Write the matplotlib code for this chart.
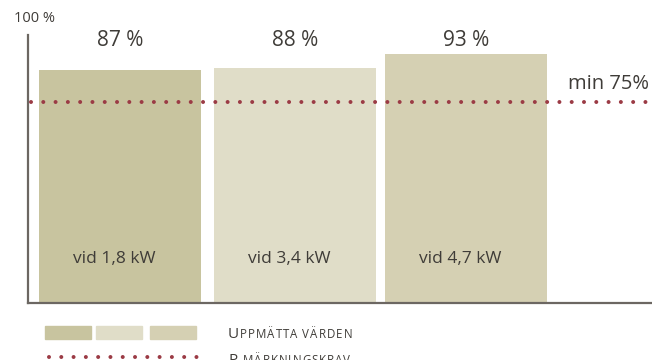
import matplotlib
matplotlib.use('Agg')
import matplotlib.pyplot as plt
from matplotlib.lines import Line2D
from matplotlib.patches import Rectangle

plt.rcParams['font.family'] = ['Open Sans', 'DejaVu Sans']

values = [87, 88, 93]
value_labels = ['87 %', '88 %', '93 %']
power_labels = ['vid 1,8 kW', 'vid 3,4 kW', 'vid 4,7 kW']
requirement = 75
requirement_label = 'min 75%'
axis_top_label = '100 %'
legend_measured = 'Uppmätta värden'
legend_requirement = 'P-märkningskrav'

bar_colors = ['#c8c49f', '#e0ddc8', '#d5d0b3']
dot_color = '#9b3b45'
text_color = '#3f3c38'
axis_color = '#6c6762'

fig = plt.figure(figsize=(6.52, 3.6), dpi=100)
ax = fig.add_axes([28 / 652, 57 / 360, 624 / 652, 268 / 360])

x = [0, 1.01, 1.995]
ax.bar(x, values, width=0.934, color=bar_colors, zorder=2)
ax.set_xlim(-0.53, 3.066)
ax.set_ylim(-0.4, 100.2)

# dotted requirement line, round dots spaced ~12 px
dots = dict(color=dot_color, lw=2.9, linestyle=(0, (0.001, 3.05)), dash_capstyle='round')
ax.plot([-0.51, 3.066], [requirement, requirement], zorder=3, **dots)

for s in ['top', 'right']:
    ax.spines[s].set_visible(False)
for s in ['left', 'bottom']:
    ax.spines[s].set_color(axis_color)
    ax.spines[s].set_linewidth(1.6)
ax.set_xticks([])
ax.set_yticks([])

for xi, lab in zip(x, value_labels):
    ax.text(xi, 0.98, lab, transform=ax.get_xaxis_transform(),
            ha='center', va='center', fontsize=15, color=text_color)

for xi, lab in zip(x, power_labels):
    ax.text(xi - 0.035, 0.165, lab, transform=ax.get_xaxis_transform(),
            ha='center', va='center', fontsize=12.5, color=text_color)

ax.text(0.995, requirement + 3.0, requirement_label, transform=ax.get_yaxis_transform(),
        ha='right', va='bottom', fontsize=14.5, color=text_color)

fig.text(35 / 652, 1 - 19 / 360, axis_top_label, ha='center', va='center',
         fontsize=10.5, color=text_color)

# legend: three swatches and a dotted line
for left, c in zip([45, 96, 150], bar_colors):
    fig.patches.append(Rectangle((left / 652, 1 - 339 / 360), 46 / 652, 13 / 360,
                                 transform=fig.transFigure, color=c))
fig.lines.append(Line2D([49 / 652, 200 / 652], [1 - 357 / 360] * 2,
                        transform=fig.transFigure, **dots))


def small_caps(fx, fy, label, big=11, small=8.3, track=1.0):
    # first letter full size, the rest as tracked small capitals
    renderer = fig.canvas.get_renderer()
    pos = fx
    for i, ch in enumerate(label):
        size = big if i == 0 else small
        t = fig.text(pos, fy, ch.upper() if ch != ' ' else '\u00a0', fontsize=size,
                     color=text_color, ha='left', va='baseline')
        pos = t.get_window_extent(renderer).x1 / fig.bbox.width + track / 652


small_caps(228 / 652, 1 - 338 / 360, legend_measured)
small_caps(228 / 652, 1 - 364 / 360, legend_requirement)

fig.savefig('out.png', dpi=100)
